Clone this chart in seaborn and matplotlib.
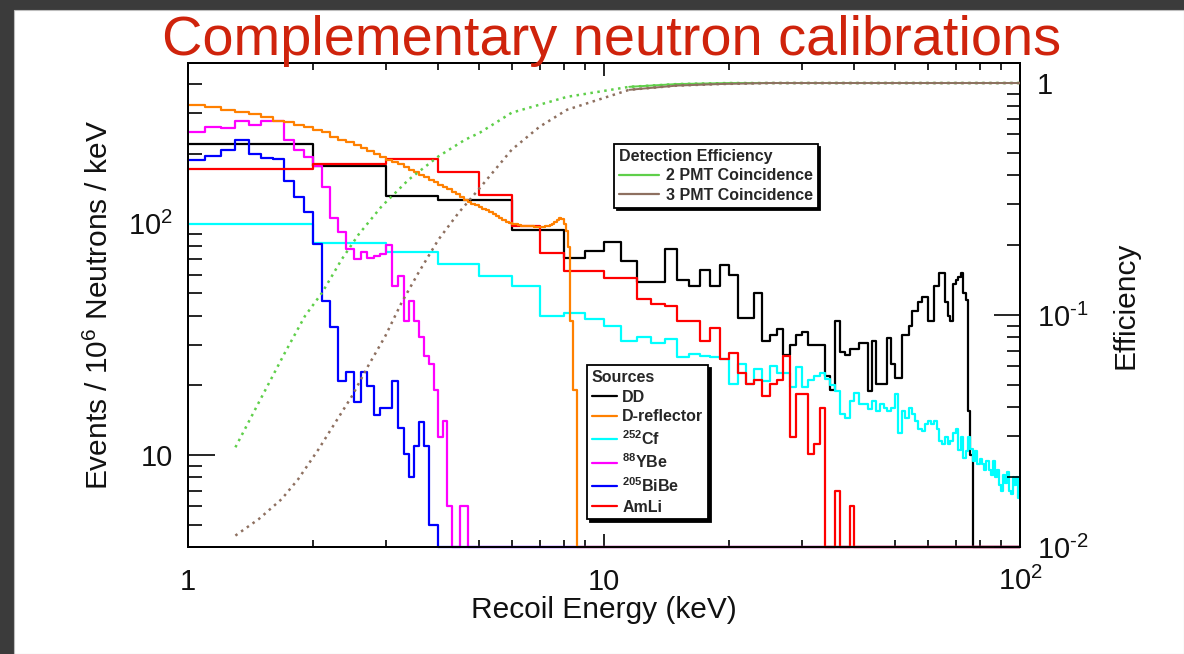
import numpy as np
import pandas as pd
import matplotlib
matplotlib.use('Agg')
import matplotlib.pyplot as plt
import seaborn as sns
from matplotlib.lines import Line2D
from matplotlib.patches import Rectangle
from matplotlib.ticker import FixedLocator, FixedFormatter, LogLocator, NullFormatter

# ---------------------------------------------------------------- data
title_text = 'Complementary neutron calibrations'
x_label = 'Recoil Energy (keV)'
y_label = r'Events / 10$^{6}$ Neutrons / keV'
y2_label = 'Efficiency'

x_tick_values = [1, 10, 100]
x_tick_labels = ['1', '10', r'$10^{2}$']
y_tick_values = [10, 100]
y_tick_labels = ['10', r'$10^{2}$']
y2_tick_values = [0.01, 0.1, 1]
y2_tick_labels = [r'$10^{\text{-}2}$', r'$10^{\text{-}1}$', '1']

# 1-keV wide bins: bin n covers [n, n+1] keV, n = 1..99
edges_1kev = np.arange(1, 101)

dd_counts = [
    220, 177, 132, 126, 126, 94, 94, 71, 76, 83,
    69, 56, 56, 78, 57, 54, 63, 54, 66, 60,
    39, 39, 50, 31, 33, 35, 27, 30, 33, 34,
    30, 30, 30, 22, 19, 38, 28, 27, 28.6, 28.6,
    30.6, 30.6, 18.9, 31, 20.2, 20.2, 20.2, 32, 24.7, 21.6,
    21.6, 33, 33, 36, 42, 42, 46, 48, 48, 38,
    38, 54, 54, 61, 61, 46, 40, 38, 55, 57,
    59, 61, 50, 47, 15.5, 10, 0, 0, 0, 0,
    0, 0, 0, 0, 0, 0, 0, 0, 0, 0,
    0, 0, 0, 0, 0, 0, 0, 0, 0]

amli_counts = [
    173, 182, 190, 167, 133, 98, 74.6, 62.2, 62.2, 58,
    58, 47.3, 45, 44, 38, 38, 31, 35.5, 26, 27.7,
    22.7, 20.3, 21, 18, 20.3, 21, 26.8, 11.9, 18.4, 18.4,
    10.1, 11.1, 16, 0, 0, 7, 0, 0, 6, 0,
    0, 0, 0, 0, 0, 0, 0, 0, 0, 0,
    0, 0, 0, 0, 0, 0, 0, 0, 0, 0,
    0, 0, 0, 0, 0, 0, 0, 0, 0, 0,
    0, 0, 0, 0, 0, 0, 0, 0, 0, 0,
    0, 0, 0, 0, 0, 0, 0, 0, 0, 0,
    0, 0, 0, 0, 0, 0, 0, 0, 0]

cf252_counts = [
    100, 82.2, 75.7, 67, 59.2, 53.9, 40, 41, 38.6, 36.2,
    31.2, 32.2, 30.6, 31.7, 26.4, 27.3, 26.8, 26.4, 26, 20.2,
    24.7, 20.2, 23.5, 20.9, 24.3, 22.7, 22.7, 19.6, 23.9, 19.6,
    21, 22, 22.5, 21.3, 20, 18.9, 15, 14.5, 17.1, 18.5,
    16.6, 16.6, 15.8, 17.1, 15.5, 16.6, 16, 15.5, 16, 18.3,
    12.5, 15.5, 14.5, 16, 15, 14, 13, 12.7, 13.6, 14,
    13.6, 14, 13, 11.5, 11.1, 11.9, 11.1, 11.5, 12.5, 12.9,
    10.5, 11.9, 9.7, 10.4, 11.9, 10.6, 9.4, 10.4, 9.1, 9.6,
    9.1, 8.6, 9.4, 8.6, 8.2, 9.4, 8.0, 8.6, 7.4, 7.0,
    8.2, 7.6, 8.4, 7.0, 6.8, 8.0, 7.4, 8.0, 6.5]

# 0.1-keV wide bins starting at 1.0 keV (zero above the last listed bin)
dref_counts = [
    327, 321, 310, 303, 298, 289, 279, 276, 268, 262,
    253, 248, 236, 230, 225, 218, 213, 207, 200, 194,
    189, 185, 181, 175, 171, 167, 163, 159, 155, 151,
    147, 144, 141, 137, 134, 130, 126, 124, 122, 120,
    118, 116, 114, 112, 110, 108, 106, 104, 102, 101,
    100, 99.5, 98.5, 98, 97.5, 97.3, 97.3, 97.3, 97, 96.5,
    96.4, 97, 97.5, 98, 99, 100, 102, 104, 106, 105,
    100, 93, 79, 38, 19, 19]

ybe88_counts = [
    250, 263, 259, 279, 268, 277, 277, 229, 209, 194,
    178, 144, 106, 91.6, 77.6, 70.3, 75.7, 70.8, 72.6, 74.3,
    80.9, 53.9, 59.6, 38, 46.1, 38, 32.2, 26.8, 24.8, 19.1,
    12, 14, 6, 0, 0, 6, 6, 0]

bibe205_counts = [
    189, 197, 208, 229, 200, 193, 190, 153, 130, 112,
    81.7, 46.4, 35.8, 20.9, 22.9, 17, 22.9, 19.9, 14.9, 15.9,
    15.9, 20.9, 13.1, 10.1, 8.0, 10.9, 13.9, 10.9, 5.0, 5.0,
    0]

# detection efficiency curves
eff2_energy = [1.30, 1.48, 1.71, 1.91, 2.10, 2.34, 2.57, 2.92, 3.39, 4.0,
               4.63, 5.03, 6.0, 8.15, 11.5, 15, 20, 100]
eff2_values = [0.0269, 0.042, 0.0688, 0.0989, 0.1247, 0.1734, 0.2222, 0.294, 0.383, 0.483,
               0.569, 0.611, 0.745, 0.872, 0.963, 0.99, 1.0, 1.0]
eff3_energy = [1.30, 1.48, 1.68, 1.84, 2.06, 2.26, 2.48, 2.71, 2.98, 3.26,
               3.58, 4.0, 4.47, 4.99, 6.0, 7.0, 8.15, 11.5, 15, 19, 25, 100]
eff3_values = [0.0112, 0.0132, 0.0161, 0.0196, 0.0264, 0.0344, 0.0448, 0.0603, 0.0811, 0.1129,
               0.152, 0.2115, 0.2756, 0.347, 0.516, 0.648, 0.767, 0.935, 0.975, 0.99, 1.0, 1.0]

source_labels = ['DD', 'D-reflector', r'$\mathbf{^{252}Cf}$', r'$\mathbf{^{88}YBe}$',
                 r'$\mathbf{^{205}BiBe}$', 'AmLi']
eff_labels = ['2 PMT Coincidence', '3 PMT Coincidence']

# ---------------------------------------------------------------- style
sns.set_theme(style='white')
plt.rcParams['font.family'] = ['Liberation Sans', 'DejaVu Sans']
plt.rcParams['mathtext.fontset'] = 'custom'
plt.rcParams['mathtext.rm'] = 'Liberation Sans'
plt.rcParams['mathtext.it'] = 'Liberation Sans:italic'
plt.rcParams['mathtext.bf'] = 'Liberation Sans:bold'

col = {'DD': '#000000', 'D-reflector': '#ff8000', 'Cf': '#00ffff', 'YBe': '#ff00ff',
       'BiBe': '#0000ff', 'AmLi': '#ff0000', 'eff2': '#5fcf4a', 'eff3': '#8e7060'}

W, H = 1184, 654
fig = plt.figure(figsize=(W / 100, H / 100), dpi=100)
fig.patch.set_facecolor('#3b3b3b')
fig.add_artist(Rectangle((14 / W, 0), 1 - 14 / W, 1 - 10 / H, transform=fig.transFigure,
                         facecolor='white', edgecolor='#bdbdbd', lw=0.8, zorder=0))

ax = fig.add_axes([188 / W, 1 - 547 / H, 832 / W, 484 / H])
ax.set_facecolor('white')
ax.set_xscale('log')
ax.set_yscale('log')
YLO, YHI = 4, 495
ax.set_xlim(1, 100)
ax.set_ylim(YLO, YHI)


def step_1kev(counts):
    y = np.maximum(np.asarray(counts, float), YLO)
    return edges_1kev.astype(float), np.append(y, y[-1])


def step_fine(counts):
    n = len(counts)
    e = np.round(1.0 + 0.1 * np.arange(n + 1), 2)
    x = np.append(e, 100.0)
    y = np.maximum(np.append(np.asarray(counts, float), [0, 0]), YLO)
    return x, y


series = [
    ('DD', step_1kev(dd_counts)),
    ('Cf', step_1kev(cf252_counts)),
    ('YBe', step_fine(ybe88_counts)),
    ('BiBe', step_fine(bibe205_counts)),
    ('AmLi', step_1kev(amli_counts)),
    ('D-reflector', step_fine(dref_counts)),
]
for i, (name, (xs, ys)) in enumerate(series):
    sns.lineplot(x=xs, y=ys, ax=ax, drawstyle='steps-post', estimator=None, sort=False,
                 color=col[name], lw=1.6, legend=False, clip_on=False, zorder=3 + i * 0.01)

# axes formatting (left / bottom)
ax.xaxis.set_major_locator(FixedLocator(x_tick_values))
ax.xaxis.set_major_formatter(FixedFormatter(x_tick_labels))
ax.xaxis.set_minor_locator(LogLocator(base=10, subs=np.arange(2, 10)))
ax.xaxis.set_minor_formatter(NullFormatter())
ax.yaxis.set_major_locator(FixedLocator(y_tick_values))
ax.yaxis.set_major_formatter(FixedFormatter(y_tick_labels))
ax.yaxis.set_minor_locator(LogLocator(base=10, subs=np.arange(2, 10)))
ax.yaxis.set_minor_formatter(NullFormatter())

ax.tick_params(axis='x', which='major', direction='in', length=9.5, width=1.2,
               top=True, bottom=True, labelsize=21, pad=31, color='black', labelcolor='#111111')
ax.tick_params(axis='x', which='minor', direction='in', length=5, width=1.2, top=True, bottom=True,
               color='black')
ax.tick_params(axis='y', which='major', direction='in', length=19.5, width=1.2,
               left=True, right=False, labelsize=21, pad=11, color='black', labelcolor='#111111')
ax.tick_params(axis='y', which='minor', direction='in', length=10, width=1.2, left=True,
               right=False, color='black')
for lbl in ax.get_xticklabels():
    lbl.set_verticalalignment('baseline')
for sp in ax.spines.values():
    sp.set_color('black')
    sp.set_linewidth(1.4)

ax.set_xlabel(x_label, fontsize=21.5, labelpad=0, color='#111111')
ax.set_ylabel(y_label, fontsize=21.5, labelpad=10, color='#111111')

# efficiency axis (right)
ax2 = ax.twinx()
ax2.set_yscale('log')
ax2.set_ylim(0.01, 1.22)
ax2.set_xlim(1, 100)
e2 = np.asarray(eff2_energy)
e3 = np.asarray(eff3_energy)
for e, v, c in [(e2, eff2_values, col['eff2']), (e3, eff3_values, col['eff3'])]:
    v = np.asarray(v)
    sns.lineplot(x=e, y=v, ax=ax2, estimator=None, sort=False, color=c, lw=1.8,
                 legend=False, zorder=5)
    ax2.get_lines()[-1].set_linestyle((0, (1, 1.8)))
    hi = e >= 11.5
    sns.lineplot(x=e[hi], y=v[hi], ax=ax2, estimator=None, sort=False, color=c, lw=1.4,
                 legend=False, zorder=5)

ax2.yaxis.set_major_locator(FixedLocator(y2_tick_values))
ax2.yaxis.set_major_formatter(FixedFormatter(y2_tick_labels))
ax2.yaxis.set_minor_locator(LogLocator(base=10, subs=np.arange(2, 10)))
ax2.yaxis.set_minor_formatter(NullFormatter())
ax2.tick_params(axis='y', which='major', direction='in', length=19, width=1.2, right=True,
                left=False, labelsize=21, pad=12, color='black', labelcolor='#111111')
ax2.tick_params(axis='y', which='minor', direction='in', length=9.5, width=1.2, right=True,
                left=False, color='black')
ax2.set_ylabel(y2_label, fontsize=21.5, labelpad=17, color='#111111')
for sp in ax2.spines.values():
    sp.set_color('black')
    sp.set_linewidth(1.4)

# legends
leg_font = {'weight': 'bold', 'size': 11.5}
src_colors = [col['DD'], col['D-reflector'], col['Cf'], col['YBe'], col['BiBe'], col['AmLi']]
src_handles = [Line2D([], [], color=c, lw=1.6) for c in src_colors]
leg1 = ax2.legend(src_handles, source_labels, title='Sources', loc='upper left',
                  bbox_to_anchor=(587 / W, 1 - 365 / H), bbox_transform=fig.transFigure,
                  frameon=True, fancybox=False, shadow={'color': 'black', 'alpha': 1},
                  edgecolor='black', framealpha=1, prop=leg_font,
                  title_fontproperties=leg_font, alignment='left', handlelength=1.6,
                  handletextpad=0.3, labelspacing=0.3, borderpad=0.3, borderaxespad=0)
leg1.get_frame().set_linewidth(1.3)
leg1.set_zorder(20)
ax2.add_artist(leg1)

eff_handles = [Line2D([], [], color=col['eff2'], lw=1.6), Line2D([], [], color=col['eff3'], lw=1.6)]
leg2 = ax2.legend(eff_handles, eff_labels, title='Detection Efficiency', loc='upper left',
                  bbox_to_anchor=(614 / W, 1 - 144 / H), bbox_transform=fig.transFigure,
                  frameon=True, fancybox=False, shadow={'color': 'black', 'alpha': 1},
                  edgecolor='black', framealpha=1, prop=leg_font,
                  title_fontproperties=leg_font, alignment='left', handlelength=2.5,
                  handletextpad=0.45, labelspacing=0.28, borderpad=0.3, borderaxespad=0)
leg2.get_frame().set_linewidth(1.3)
leg2.set_zorder(20)

fig.text(612 / W, 1 - 55 / H, title_text, color='#cf230c', fontsize=40.3,
         ha='center', va='baseline')

fig.savefig('out.png', dpi=100, facecolor=fig.get_facecolor())
